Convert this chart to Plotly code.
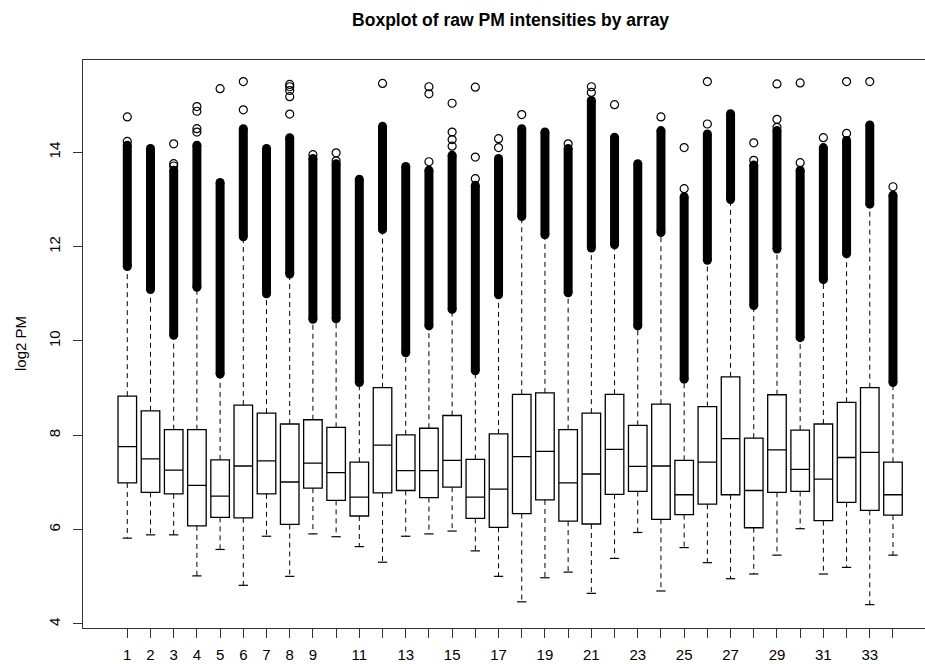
import plotly.graph_objects as go

# ---- data ----
arrays = list(range(1, 35))
tick_labels = ["1", "2", "3", "4", "5", "6", "7", "8", "9", "", "11", "", "13", "", "15", "",
               "17", "", "19", "", "21", "", "23", "", "25", "", "27", "", "29", "", "31", "", "33", ""]

q3 = [8.83, 8.52, 8.12, 8.12, 7.48, 8.64, 8.47, 8.24, 8.33, 8.17, 7.43, 9.01, 8.01, 8.15, 8.42, 7.49, 8.03,
      8.87, 8.90, 8.12, 8.47, 8.87, 8.21, 8.66, 7.47, 8.61, 9.24, 7.94, 8.86, 8.11, 8.24, 8.70, 9.01, 7.43]
median = [7.76, 7.50, 7.26, 6.94, 6.71, 7.35, 7.46, 7.01, 7.41, 7.21, 6.69, 7.79, 7.25, 7.25, 7.47, 6.69, 6.86,
          7.55, 7.66, 6.99, 7.18, 7.70, 7.34, 7.35, 6.74, 7.43, 7.93, 6.83, 7.69, 7.28, 7.07, 7.53, 7.64, 6.74]
q1 = [6.99, 6.79, 6.76, 6.08, 6.26, 6.25, 6.76, 6.11, 6.88, 6.62, 6.29, 6.78, 6.83, 6.68, 6.90, 6.24, 6.05,
      6.34, 6.63, 6.18, 6.12, 6.75, 6.81, 6.22, 6.32, 6.54, 6.74, 6.04, 6.79, 6.81, 6.19, 6.58, 6.41, 6.31]
lower_whisker = [5.82, 5.89, 5.89, 5.02, 5.58, 4.82, 5.86, 5.01, 5.91, 5.85, 5.64, 5.31, 5.86, 5.91, 5.97, 5.55, 5.01,
                 4.47, 4.98, 5.10, 4.65, 5.39, 5.94, 4.70, 5.62, 5.30, 4.96, 5.06, 5.46, 6.02, 5.06, 5.20, 4.41, 5.46]
# dense run of outliers: from its lowest value up to where it stops being continuous
outlier_low = [11.58, 11.09, 10.12, 11.14, 9.30, 12.21, 11.00, 11.42, 10.46, 10.47, 9.12, 12.36, 9.75, 10.32, 10.67,
               9.37, 10.98, 12.64, 12.25, 11.02, 11.97, 12.04, 10.32, 12.30, 9.19, 11.71, 13.00, 10.75, 11.95,
               10.07, 11.30, 11.85, 12.90, 9.12]
outlier_high = [14.15, 14.08, 13.62, 14.15, 13.36, 14.50, 14.08, 14.31, 13.87, 13.76, 13.43, 14.55, 13.70, 13.62,
                13.94, 13.30, 13.87, 14.50, 14.43, 14.08, 15.10, 14.32, 13.76, 14.46, 13.06, 14.39, 14.82, 13.73,
                14.46, 13.62, 14.10, 14.25, 14.58, 13.09]
# isolated outliers above the dense runs
extra_out_array = [1, 1, 3, 3, 3, 4, 4, 4, 4, 5, 6, 6, 8, 8, 8, 8, 8, 9, 10, 10, 12, 14, 14, 14, 15, 15, 15, 15,
                   16, 16, 16, 17, 17, 18, 20, 21, 21, 22, 24, 25, 25, 26, 26, 28, 28, 29, 29, 29, 30, 30, 31,
                   32, 32, 33, 34]
extra_out_value = [14.75, 14.23, 14.18, 13.76, 13.71, 14.97, 14.87, 14.50, 14.43, 15.35, 15.50, 14.90, 15.44, 15.39,
                   15.31, 15.18, 14.81, 13.95, 13.99, 13.82, 15.46, 15.39, 15.24, 13.80, 15.04, 14.43, 14.27, 14.13,
                   15.38, 13.90, 13.44, 14.29, 14.10, 14.80, 14.18, 15.39, 15.27, 15.01, 14.75, 14.10, 13.23, 15.50,
                   14.60, 14.20, 13.83, 15.45, 14.70, 14.53, 15.47, 13.78, 14.31, 15.50, 14.40, 15.50, 13.27]
y_ticks = [4, 6, 8, 10, 12, 14]

# ---- style ----
FONT = "Liberation Sans, Arial, Helvetica, sans-serif"
BOX_W = 0.8
STAPLE_HALF = 0.2
INK = "black"
FRAME = "#333333"

fig = go.Figure()

# dashed whiskers
wx, wy = [], []
for p, a, b, c, d in zip(arrays, q3, outlier_low, q1, lower_whisker):
    wx += [p, p, None, p, p, None]
    wy += [a, b, None, c, d, None]
fig.add_trace(go.Scatter(x=wx, y=wy, mode="lines", line=dict(color=INK, width=1, dash="5px,4px"),
                         hoverinfo="skip"))

# staples
sx, sy = [], []
for p, d in zip(arrays, lower_whisker):
    sx += [p - STAPLE_HALF, p + STAPLE_HALF, None]
    sy += [d, d, None]
fig.add_trace(go.Scatter(x=sx, y=sy, mode="lines", line=dict(color=INK, width=1.2), hoverinfo="skip"))

# boxes
fig.add_trace(go.Box(x=arrays, q1=q1, median=median, q3=q3, lowerfence=q1, upperfence=q3,
                     width=BOX_W, whiskerwidth=0, fillcolor="white", boxpoints=False,
                     line=dict(color=INK, width=1.3), hoverinfo="skip"))

# dense outlier runs
bx, by = [], []
for p, lo, hi in zip(arrays, outlier_low, outlier_high):
    bx += [p, p, None]
    by += [lo, hi, None]
fig.add_trace(go.Scatter(x=bx, y=by, mode="lines", line=dict(color=INK, width=9), hoverinfo="skip"))
fig.add_trace(go.Scatter(x=arrays + arrays, y=outlier_low + outlier_high, mode="markers",
                         marker=dict(symbol="circle", size=9, color=INK, line=dict(width=0)),
                         hoverinfo="skip"))

# isolated outliers
fig.add_trace(go.Scatter(x=extra_out_array, y=extra_out_value, mode="markers",
                         marker=dict(symbol="circle-open", size=8, color=INK, line=dict(width=1.2)),
                         hoverinfo="skip"))

fig.update_layout(
    width=925, height=664,
    margin=dict(l=83, r=0, t=60, b=36, pad=0),
    paper_bgcolor="white", plot_bgcolor="white",
    showlegend=False,
    font=dict(family=FONT, color="black", size=15),
    title=dict(text="<b>Boxplot of raw PM intensities by array</b>",
               font=dict(family=FONT, size=17.5, color="black"),
               x=0.552, xref="container", xanchor="center",
               y=0.970, yref="container", yanchor="middle"),
    xaxis=dict(range=[-0.909, 35.38], tickmode="array", tickvals=arrays, ticktext=tick_labels,
               ticks="outside", ticklen=9, tickwidth=1.2, tickcolor=FRAME, ticklabelstandoff=4,
               showgrid=False, zeroline=False, showline=True, mirror=True,
               linecolor=FRAME, linewidth=1.3, tickfont=dict(size=15)),
    yaxis=dict(range=[3.915, 15.957], tickmode="array", tickvals=y_ticks,
               ticktext=[str(v) for v in y_ticks], tickangle=-90,
               ticks="outside", ticklen=9, tickwidth=1.2, tickcolor=FRAME, ticklabelstandoff=7,
               showgrid=False, zeroline=False, showline=True, mirror=False,
               linecolor=FRAME, linewidth=1.3, tickfont=dict(size=15)),
    annotations=[dict(text="log2 PM", xref="paper", yref="paper", x=-0.0748, y=0.5,
                      xanchor="center", yanchor="middle", textangle=-90, showarrow=False,
                      font=dict(family=FONT, size=15, color="black"))],
)

fig.write_html("out.html")
